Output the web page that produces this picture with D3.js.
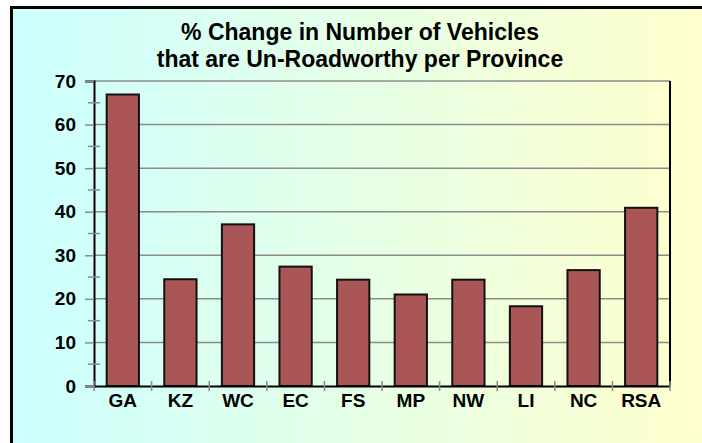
<html>
<head>
<style>
    body { margin: 0; background: #fff; }
    svg text { font-family: "Liberation Sans", Arial, sans-serif; font-weight: bold; fill: #000; }
</style>
</head>
<body>
<div id="chart"><svg></svg></div>
<script src="https://d3js.org/d3.v7.min.js"></script>
<script>
var provinces = ["GA", "KZ", "WC", "EC", "FS", "MP", "NW", "LI", "NC", "RSA"]
var pctChange = [66.9, 24.5, 37.1, 27.4, 24.4, 21.0, 24.4, 18.3, 26.6, 40.9]
var yTicks = [0, 10, 20, 30, 40, 50, 60, 70]
var yMinor = [5, 15, 25, 35, 45, 55, 65]
var titleLines = ["% Change in Number of Vehicles", "that are Un-Roadworthy per Province"]

var screen = {width: 702, height: 443}
var plot = {left: 94, top: 81, right: 670, bottom: 386}

var svg = d3.select("#chart svg")
            .attr("width", screen.width)
            .attr("height", screen.height)

// background gradient, cyan to pale yellow
var grad = svg.append("defs").append("linearGradient")
              .attr("id", "bg")
              .attr("x1", "0%").attr("x2", "100%")
              .attr("y1", "0%").attr("y2", "0%")
grad.append("stop").attr("offset", "0%").attr("stop-color", "#ccffff")
grad.append("stop").attr("offset", "100%").attr("stop-color", "#ffffcc")

svg.append("rect")
   .attr("x", 11.5).attr("y", 7.5)
   .attr("width", 700).attr("height", 445)
   .attr("fill", "url(#bg)")
   .attr("stroke", "#000")
   .attr("stroke-width", 3)

var xScale = d3.scaleBand()
               .domain(provinces)
               .range([plot.left, plot.right])
               .paddingInner(0.44)
               .paddingOuter(0.22)

var yScale = d3.scaleLinear()
               .domain([0, 70])
               .range([plot.bottom, plot.top])

// gridlines
svg.append("g")
   .selectAll("line")
   .data(yTicks.slice(1))
   .enter()
   .append("line")
   .attr("x1", plot.left).attr("x2", plot.right)
   .attr("y1", function(d){return yScale(d)})
   .attr("y2", function(d){return yScale(d)})
   .attr("stroke", "#8c8c8c")
   .attr("stroke-width", 1.5)

// bars
svg.append("g")
   .selectAll("rect")
   .data(provinces)
   .enter()
   .append("rect")
   .attr("x", function(p){return xScale(p)})
   .attr("width", xScale.bandwidth())
   .attr("y", function(p, i){return yScale(pctChange[i])})
   .attr("height", function(p, i){return yScale(0) - yScale(pctChange[i])})
   .attr("fill", "#aa5656")
   .attr("stroke", "#111")
   .attr("stroke-width", 2)

// right border of plot area
svg.append("line")
   .attr("x1", plot.right).attr("x2", plot.right)
   .attr("y1", plot.top).attr("y2", plot.bottom)
   .attr("stroke", "#000").attr("stroke-width", 2)

// y axis
var yAxis = d3.axisLeft(yScale).tickValues(yTicks).tickSize(9).tickPadding(9)
var yg = svg.append("g")
            .attr("transform", "translate(" + plot.left + ",0)")
            .call(yAxis)
yg.select(".domain").attr("stroke", "#000").attr("stroke-width", 2)
yg.selectAll(".tick line").attr("stroke", "#8c8c8c").attr("stroke-width", 1.5)
yg.selectAll(".tick text").attr("font-size", 19).attr("fill", "#000")

// minor ticks crossing the y axis
svg.append("g")
   .selectAll("line")
   .data(yMinor)
   .enter()
   .append("line")
   .attr("x1", plot.left - 6).attr("x2", plot.left + 6)
   .attr("y1", function(d){return yScale(d)})
   .attr("y2", function(d){return yScale(d)})
   .attr("stroke", "#8c8c8c")
   .attr("stroke-width", 1.5)

// x axis
var xg = svg.append("g")
            .attr("transform", "translate(0," + plot.bottom + ")")
            .call(d3.axisBottom(xScale).tickSize(0).tickPadding(8))
xg.select(".domain").attr("stroke", "#000").attr("stroke-width", 2)
xg.selectAll(".tick text").attr("font-size", 19).attr("fill", "#000")

// category boundary ticks
var bounds = provinces.map(function(p){return xScale(p) - xScale.step() * 0.22})
bounds.push(plot.right)
svg.append("g")
   .selectAll("line")
   .data(bounds)
   .enter()
   .append("line")
   .attr("x1", function(d){return d}).attr("x2", function(d){return d})
   .attr("y1", plot.bottom - 5).attr("y2", plot.bottom + 5)
   .attr("stroke", "#8c8c8c")
   .attr("stroke-width", 1.5)

// title
svg.append("text")
   .attr("x", 360)
   .attr("text-anchor", "middle")
   .attr("font-size", 23)
   .selectAll("tspan")
   .data(titleLines)
   .enter()
   .append("tspan")
   .attr("x", 360)
   .attr("y", function(d, i){return 40 + i * 27})
   .text(function(d){return d})
</script>
</body>
</html>
